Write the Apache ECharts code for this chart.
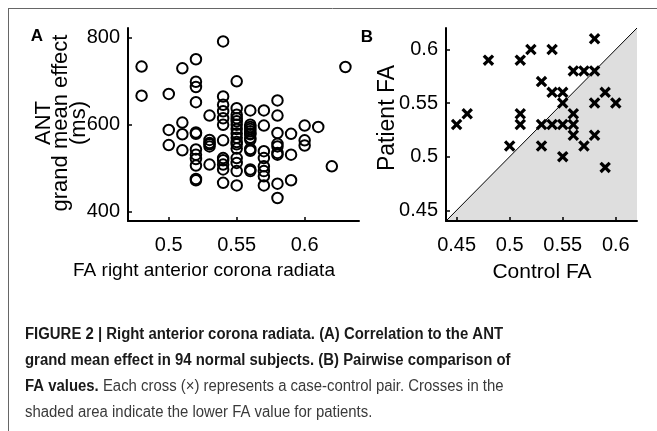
<!DOCTYPE html>
<html>
<head>
<meta charset="utf-8">
<script src="https://cdn.jsdelivr.net/npm/echarts@6/dist/echarts.min.js"></script>
<style>
html,body{margin:0;padding:0;background:#fff;}
#c{width:657px;height:431px;}
</style>
</head>
<body>
<div id="c"></div>
<script>
// ---- Panel A data: FA right anterior corona radiata vs ANT grand mean effect (ms)
var aFA = [
  0.48,0.48,
  0.50,0.50,0.50,
  0.51,0.51,0.51,0.51,
  0.52,0.52,0.52,0.52,0.52,0.52,0.52,0.52,0.52,0.52,0.52,0.52,
  0.53,0.53,0.53,0.53,0.53,0.53,
  0.54,0.54,0.54,0.54,0.54,0.54,0.54,0.54,0.54,0.54,0.54,0.54,
  0.55,0.55,0.55,0.55,0.55,0.55,0.55,0.55,0.55,0.55,0.55,0.55,0.55,0.55,0.55,0.55,
  0.56,0.56,0.56,0.56,0.56,0.56,0.56,0.56,0.56,0.56,0.56,0.56,0.56,
  0.57,0.57,0.57,0.57,0.57,0.57,0.57,0.57,
  0.58,0.58,0.58,0.58,0.58,0.58,0.58,0.58,0.58,
  0.59,0.59,0.59,
  0.60,0.60,0.60,
  0.61,
  0.62,
  0.63
];
var aANT = [
  734,667,
  671,588,553,
  730,605,578,541,
  751,699,687,652,582,579,543,531,521,506,475,472,
  621,565,558,550,508,555,
  792,665,646,631,615,600,564,523,518,508,497,466,
  700,638,623,615,608,600,590,580,570,560,555,545,523,512,493,460,
  633,600,595,590,585,580,578,570,565,544,540,497,493,
  633,598,539,523,504,493,481,460,
  656,621,581,556,550,535,531,464,431,
  579,531,472,
  598,564,552,
  595,
  504,
  733
];
// ---- Panel B data: control FA vs patient FA (case-control pairs)
var bControl = [0.45,0.46,0.48,0.51,0.52,0.54,0.58,0.51,0.51,0.50,0.53,0.53,0.53,0.54,0.55,0.55,0.54,0.55,0.56,0.56,0.56,0.57,0.58,0.58,0.59,0.60,0.55,0.59,0.56,0.57,0.58];
var bPatient = [0.53,0.54,0.59,0.59,0.60,0.60,0.61,0.54,0.53,0.51,0.57,0.53,0.51,0.56,0.56,0.55,0.53,0.53,0.53,0.54,0.52,0.51,0.52,0.55,0.56,0.55,0.50,0.49,0.58,0.58,0.58];
// ---- Tick labels
var aXTicks = [0.5, 0.55, 0.6];
var aYTicks = [400, 600, 800];
var bTicks = [0.45, 0.5, 0.55, 0.6];
var diag = [0.44, 0.62];

var captionLines = [
  [{b:'FIGURE 2 | Right anterior corona radiata. (A) Correlation to the ANT'}],
  [{b:'grand mean effect in 94 normal subjects. (B) Pairwise comparison of'}],
  [{b:'FA values.'},{r:' Each cross (\u00d7) represents a case-control pair. Crosses in the'}],
  [{r:'shaded area indicate the lower FA value for patients.'}]
];

var FONT = '"Liberation Sans", Arial, Helvetica, sans-serif';
var chart = echarts.init(document.getElementById('c'), null, {renderer:'canvas'});

var aData = aFA.map(function(x,i){return [x, aANT[i]];});
var bData = bControl.map(function(x,i){return [x, bPatient[i]];});
var diagData = diag.map(function(v){return [v,v];});

function fmt(v){ return String(+(+v).toFixed(2)); }

function axisCommon(ticks, extra, margin){
  var o = {
    type:'value',
    axisLine:{show:true, onZero:false, lineStyle:{color:'#000', width:2}},
    axisTick:{show:true, inside:true, length:4, customValues:ticks, lineStyle:{color:'#000', width:1.5}},
    axisLabel:{customValues:ticks, color:'#000', fontSize:20, fontFamily:FONT, formatter:fmt, margin:margin},
    splitLine:{show:false}
  };
  for (var k in extra) o[k] = extra[k];
  return o;
}

var crossPath = 'path://M0,2 L2,0 L5,3 L8,0 L10,2 L7,5 L10,8 L8,10 L5,7 L2,10 L0,8 L3,5 Z';

// caption scale (fit measured condensed face)
var cv = document.createElement('canvas').getContext('2d');
cv.font = 'bold 16px ' + FONT;
var w1 = cv.measureText(captionLines[0][0].b).width;
var sx = 478 / w1;

var captionEls = captionLines.map(function(parts, i){
  var txt = parts.map(function(p){ return p.b ? '{b|'+p.b+'}' : '{r|'+p.r+'}'; }).join('');
  return {
    type:'text', x:25, y:335 + i*26, scaleX:sx,
    style:{
      text:txt, textAlign:'left', textVerticalAlign:'middle',
      rich:{
        b:{font:'bold 16px '+FONT, fill:'#1a1a1a'},
        r:{font:'16px '+FONT, fill:'#3a3a3a'}
      }
    }
  };
});

var graphics = [
  {type:'line', shape:{x1:8,y1:8.5,x2:657,y2:8.5}, style:{stroke:'#666', lineWidth:1}},
  {type:'line', shape:{x1:8.5,y1:8,x2:8.5,y2:431}, style:{stroke:'#666', lineWidth:1}},
  {type:'text', x:37, y:36, style:{text:'A', font:'bold 17px '+FONT, fill:'#000', textAlign:'center', textVerticalAlign:'middle'}},
  {type:'text', x:367, y:37, style:{text:'B', font:'bold 17px '+FONT, fill:'#000', textAlign:'center', textVerticalAlign:'middle'}},
  {type:'text', x:61, y:123, rotation:Math.PI/2, style:{text:'ANT\ngrand mean effect\n(ms)', font:'22px '+FONT, lineHeight:17.5, fill:'#000', textAlign:'center', textVerticalAlign:'middle'}},
  {type:'text', x:204, y:271, style:{text:'FA right anterior corona radiata', font:'19px '+FONT, fill:'#000', textAlign:'center', textVerticalAlign:'middle'}},
  {type:'text', x:388, y:118, rotation:Math.PI/2, style:{text:'Patient FA', font:'23px '+FONT, fill:'#000', textAlign:'center', textVerticalAlign:'middle'}},
  {type:'text', x:542, y:272, style:{text:'Control FA', font:'21px '+FONT, fill:'#000', textAlign:'center', textVerticalAlign:'middle'}}
].concat(captionEls);

var option = {
  animation:false,
  backgroundColor:'#fff',
  grid:[
    {left:128, top:28, width:231, height:193},
    {left:446, top:28, width:191, height:193}
  ],
  xAxis:[
    axisCommon(aXTicks, {gridIndex:0, min:0.47, max:0.64}, 14),
    axisCommon(bTicks, {gridIndex:1, min:0.44, max:0.62}, 14)
  ],
  yAxis:[
    axisCommon(aYTicks, {gridIndex:0, min:378, max:823}, 8),
    axisCommon(bTicks, {gridIndex:1, min:0.44, max:0.62}, 8)
  ],
  series:[
    {type:'scatter', xAxisIndex:0, yAxisIndex:0, data:aData, symbol:'circle', symbolSize:10.5,
     itemStyle:{color:'rgba(0,0,0,0)', borderColor:'#000', borderWidth:2, opacity:1}, z:3},
    {type:'line', xAxisIndex:1, yAxisIndex:1, data:diagData, symbol:'none',
     lineStyle:{color:'#000', width:1}, areaStyle:{color:'#dedede', origin:'start', opacity:1}, z:1},
    {type:'scatter', xAxisIndex:1, yAxisIndex:1, data:bData, symbol:crossPath, symbolSize:11.5,
     itemStyle:{color:'#000', opacity:1}, z:3}
  ],
  graphic:graphics
};
option.xAxis.forEach(function(a){a.z=5;});
option.yAxis.forEach(function(a){a.z=5;});
chart.setOption(option);
</script>
</body>
</html>
